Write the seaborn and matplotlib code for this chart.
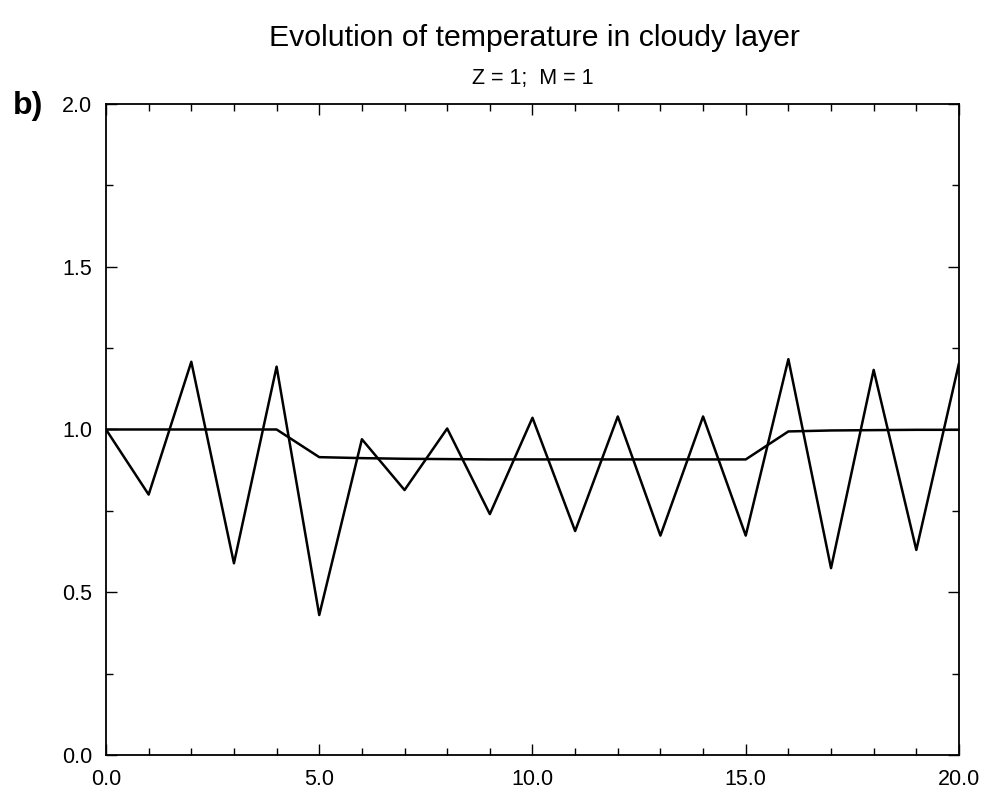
import numpy as np
import pandas as pd
import matplotlib
matplotlib.use("Agg")
import matplotlib.pyplot as plt
import seaborn as sns
from matplotlib.ticker import MultipleLocator, FormatStrFormatter

# Data
time = [0, 1, 2, 3, 4, 5, 6, 7, 8, 9, 10, 11, 12, 13, 14, 15, 16, 17, 18, 19, 20]
oscillating = [1.0, 0.80, 1.208, 0.589, 1.193, 0.43, 0.97, 0.814, 1.003, 0.74,
               1.036, 0.688, 1.04, 0.674, 1.04, 0.674, 1.216, 0.574, 1.183, 0.63, 1.203]
smooth = [1.0, 1.0, 1.0, 1.0, 1.0, 0.915, 0.912, 0.91, 0.909, 0.908, 0.908,
          0.908, 0.908, 0.908, 0.908, 0.908, 0.994, 0.997, 0.998, 0.999, 0.999]

title = "Evolution of temperature in cloudy layer"
subtitle = "Z = 1;  M = 1"
panel_label = "b)"

df = pd.DataFrame({
    "t": time * 2,
    "T": oscillating + smooth,
    "series": ["oscillating"] * len(time) + ["smooth"] * len(time),
})

sns.set_style("ticks")
plt.rcParams["font.family"] = ["Liberation Sans", "DejaVu Sans"]
plt.rcParams["text.color"] = "black"

fig = plt.figure(figsize=(9.87, 7.9), dpi=100)
ax = fig.add_axes([0.1074, 0.0443, 0.8642, 0.8241])

sns.lineplot(data=df, x="t", y="T", units="series", estimator=None,
             color="black", linewidth=1.8, ax=ax, legend=False)

ax.set_xlim(0, 20)
ax.set_ylim(0, 2.0)
ax.xaxis.set_major_locator(MultipleLocator(5))
ax.xaxis.set_minor_locator(MultipleLocator(1))
ax.yaxis.set_major_locator(MultipleLocator(0.5))
ax.yaxis.set_minor_locator(MultipleLocator(0.25))
ax.xaxis.set_major_formatter(FormatStrFormatter("%.1f"))
ax.yaxis.set_major_formatter(FormatStrFormatter("%.1f"))
ax.tick_params(which="both", direction="in", top=True, right=True, width=1.0,
               colors="black", labelcolor="black")
ax.tick_params(which="major", length=8, labelsize=15.5)
ax.tick_params(axis="x", which="major", pad=10)
ax.tick_params(axis="y", which="major", pad=10)
ax.tick_params(which="minor", length=5)
ax.set_xlabel("")
ax.set_ylabel("")
for s in ax.spines.values():
    s.set_visible(True)
    s.set_linewidth(1.3)
    s.set_color("black")

fig.text(0.541, 0.952, title, ha="center", va="center", fontsize=21.8,
         color="black")
fig.text(0.54, 0.901, subtitle, ha="center", va="center", fontsize=15.5,
         color="black")
fig.text(0.013, 0.866, panel_label, ha="left", va="center", fontsize=23,
         fontweight="bold", color="black")

fig.savefig("out.png", dpi=100)
